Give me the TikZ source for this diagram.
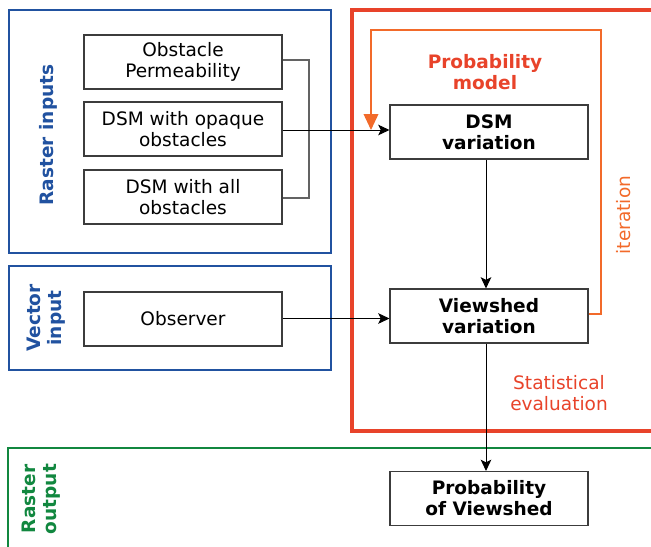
\documentclass[tikz,border=0pt]{standalone}
\usepackage{fontspec}
\setmainfont{DejaVu Sans}
\usetikzlibrary{arrows.meta}
\definecolor{myblue}{RGB}{33,82,160}
\definecolor{myred}{RGB}{232,67,42}
\definecolor{myorange}{RGB}{242,106,42}
\definecolor{mygreen}{RGB}{17,135,63}
\definecolor{mygray}{RGB}{60,60,60}
\tikzset{
  x=0.75pt, y=-0.75pt,
  txt/.style={font=\fontsize{13.9}{15.75}\selectfont, align=center, inner sep=0pt},
  btxt/.style={font=\fontsize{13.9}{15.75}\selectfont\bfseries, align=center, inner sep=0pt},
  boxnode/.style={txt, draw=mygray, line width=0.8pt, minimum width=148.5pt, minimum height=40.5pt},
  bboxnode/.style={boxnode, font=\fontsize{13.9}{15.75}\selectfont\bfseries},
  conn/.style={draw=black, line width=0.75pt, -{Stealth[length=8.5pt,width=8pt,inset=2pt]}},
  brk/.style={draw=mygray!80, line width=0.8pt},
  loopline/.style={draw=myorange, line width=1.2pt}
}
\begin{document}
\begin{tikzpicture}
\useasboundingbox (0,0) rectangle (651,547);
\clip (0,0) rectangle (651,547);
% region frames
\draw[myblue, line width=1.6pt] (9,10) rectangle (331,253);
\draw[myblue, line width=1.6pt] (9,266) rectangle (331,370);
\draw[myred, line width=2.3pt] (670,10) -- (352,10) -- (352,431) -- (670,431);
\draw[mygreen, line width=1.6pt] (670,448) -- (8,448) -- (8,560);
% region labels
\node[btxt, text=myblue, rotate=90] (lraster) at (48,135) {Raster inputs};
\node[btxt, text=myblue, rotate=90] (lvector) at (46,318) {Vector\\input};
\node[btxt, text=mygreen, rotate=90] (lout) at (41,499) {Raster\\output};
\node[btxt, text=myred] (lprob) at (485,72) {Probability\\model};
\node[txt, text=myred] (lstat) at (559,393) {Statistical\\evaluation};
\node[txt, text=myorange, rotate=90] (liter) at (624,215) {iteration};
% boxes
\node[boxnode] (perm) at (183,62) {Obstacle\\Permeability};
\node[boxnode] (opaque) at (183,129) {DSM with opaque\\obstacles};
\node[boxnode] (allobs) at (183,197) {DSM with all\\obstacles};
\node[boxnode] (obs) at (183,319) {Observer};
\node[bboxnode] (dsmv) at (489,132) {DSM\\variation};
\node[bboxnode] (vsv) at (489,316) {Viewshed\\variation};
\node[bboxnode] (pov) at (489,498.5) {Probability\\of Viewshed};
% bracket
\coordinate (bt) at (309,60);
\coordinate (bb) at (309,198);
\draw[brk] (perm.east |- bt) -- (bt) -- (bb) -- (allobs.east |- bb);
% connectors
\coordinate (a1) at (282,130);
\draw[conn] (opaque.east |- a1) -- (dsmv.west |- a1);
\coordinate (a2) at (282,318.5);
\draw[conn] (obs.east |- a2) -- (vsv.west |- a2);
\coordinate (vx) at (486,0);
\draw[conn] (dsmv.south -| vx) -- (vsv.north -| vx);
\draw[conn] (vsv.south -| vx) -- (pov.north -| vx);
% iteration loop
\coordinate (l1) at (601,314);
\coordinate (l2) at (601,30);
\coordinate (l3) at (371,30);
\coordinate (l4) at (371,130);
\draw[loopline, -{Triangle[length=12pt,width=11pt]}] (vsv.east |- l1) -- (l1) -- (l2) -- (l3) -- (l4);
\end{tikzpicture}
\end{document}
